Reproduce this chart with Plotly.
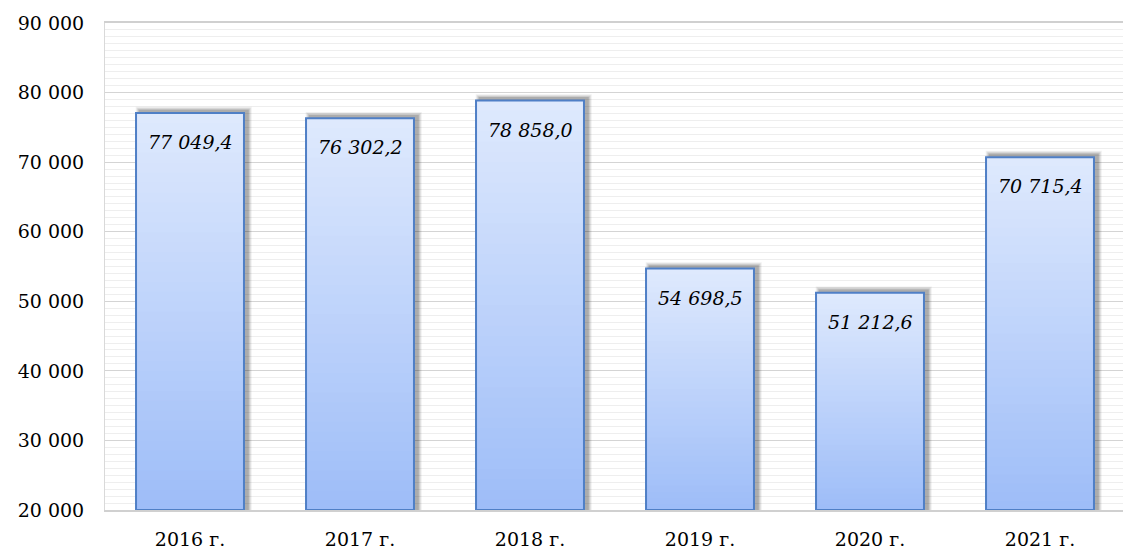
import plotly.graph_objects as go

categories = ["2016 г.", "2017 г.", "2018 г.", "2019 г.", "2020 г.", "2021 г."]
values = [77049.4, 76302.2, 78858.0, 54698.5, 51212.6, 70715.4]
tick_vals = [20000, 30000, 40000, 50000, 60000, 70000, 80000, 90000]
tick_text = ["20 000", "30 000", "40 000", "50 000", "60 000", "70 000", "80 000", "90 000"]

Y0 = 20000
BAR_W = 0.635
FONT = "DejaVu Serif"
TOP = (222, 233, 253)
BOTTOM = (158, 189, 248)

fig = go.Figure()

# soft shadow layers
for i, a in enumerate([0.06, 0.08, 0.10, 0.13]):
    grow = (4 - i) * 0.006
    w = BAR_W + 2 * grow
    fig.add_trace(go.Bar(
        x=categories, y=[v + (4 - i) * 140 + 350 - Y0 for v in values], base=Y0,
        width=w, offset=-w / 2 + 0.022,
        marker=dict(color=f"rgba(0,0,0,{a})", line=dict(width=0)),
        hoverinfo="skip", showlegend=False))

# gradient fill: stacked steps from dark (bottom) to light (top)
N = 40
for k in range(N):
    t = k / (N - 1)
    c = tuple(round(BOTTOM[j] + (TOP[j] - BOTTOM[j]) * t) for j in range(3))
    bases = [Y0 + (v - Y0) * k / N for v in values]
    fig.add_trace(go.Bar(
        x=categories, y=[v - b for v, b in zip(values, bases)], base=bases,
        width=BAR_W, marker=dict(color=f"rgb{c}", line=dict(width=0)),
        hoverinfo="skip", showlegend=False))

# outline
fig.add_trace(go.Bar(
    x=categories, y=[v - Y0 for v in values], base=Y0, width=BAR_W,
    marker=dict(color="rgba(0,0,0,0)", line=dict(color="#4f7fc6", width=2)),
    showlegend=False))

for c, v in zip(categories, values):
    label = f"{v:,.1f}".replace(",", " ").replace(".", ",")
    fig.add_annotation(x=c, y=v, text=label, showarrow=False, yshift=-29,
                       font=dict(family=FONT, size=19, color="black", style="italic"))

# page body has an 8px margin, so the figure is sized/positioned to compensate
fig.update_layout(
    barmode="overlay",
    width=1123, height=544,
    margin=dict(l=97, r=6, t=15, b=42, autoexpand=False),
    paper_bgcolor="white", plot_bgcolor="white",
    font=dict(family=FONT, size=19, color="black"),
    xaxis=dict(showline=True, linecolor="#d0d0d0", linewidth=2, mirror=True,
               showgrid=False, ticks="", tickfont=dict(size=19),
               ticklabelstandoff=11, automargin=False),
    yaxis=dict(range=[20000, 90000], tickvals=tick_vals, ticktext=tick_text,
               showline=True, linecolor="#d9d9d9", linewidth=1, mirror=True,
               gridcolor="#d4d4d4", gridwidth=1, zeroline=False,
               minor=dict(dtick=1000, tick0=20000, showgrid=True, gridcolor="#eeeeee", gridwidth=1),
               ticks="", ticklabelstandoff=16, tickfont=dict(size=19), automargin=False),
)

fig.write_html("out.html")
